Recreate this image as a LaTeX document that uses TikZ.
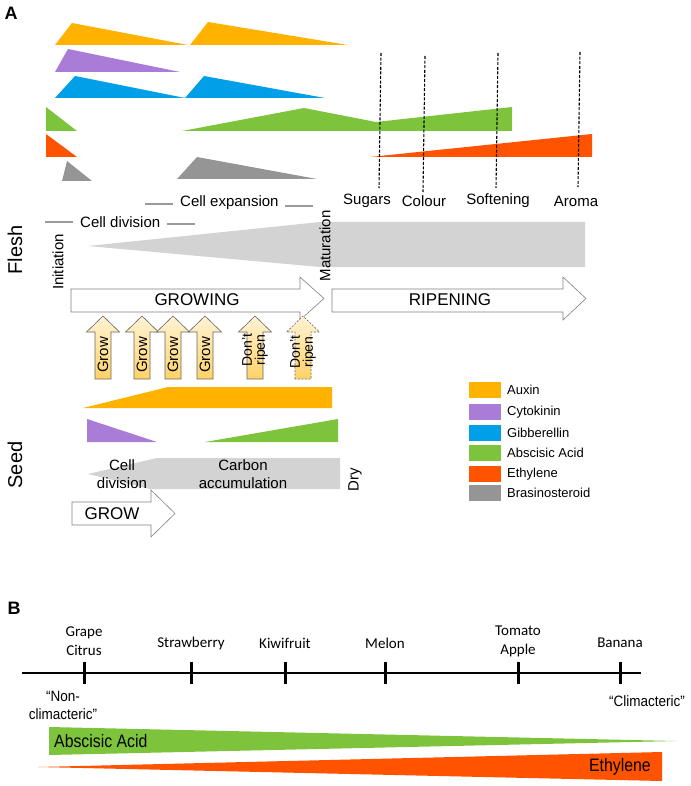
\documentclass[tikz,border=0pt]{standalone}
\usepackage{fontspec}
\setmainfont{Liberation Sans}
\newfontfamily\carl{Carlito}
\definecolor{auxin}{HTML}{FFB300}
\definecolor{cyto}{HTML}{A97CD8}
\definecolor{gibb}{HTML}{009FE8}
\definecolor{aba}{HTML}{7DC43C}
\definecolor{eth}{HTML}{FF5300}
\definecolor{bras}{HTML}{959595}
\definecolor{wedge}{HTML}{D3D3D3}
\definecolor{bargray}{HTML}{9A9A9A}
\definecolor{arrtop}{HTML}{FFF3D6}
\definecolor{arrbot}{HTML}{FFD266}
\begin{document}
\begin{tikzpicture}[x=1pt,y=-1pt,
  lab/.style={inner sep=0pt, font=\fontsize{15}{17}\selectfont},
  big/.style={inner sep=0pt, font=\fontsize{20}{22}\selectfont},
  legtext/.style={inner sep=0pt, anchor=west, font=\fontsize{13}{15}\selectfont},
  swatch/.style={minimum width=32pt, minimum height=16pt, inner sep=0pt},
  flow/.style={draw=black!50, fill=white, line width=0.6pt},
  flowtext/.style={inner sep=0pt, font=\fontsize{17}{19}\selectfont},
  stagebar/.style={draw=bargray, line width=2.8pt},
  marker/.style={draw=black, line width=1.1pt, dash pattern=on 3pt off 1.6pt},
  uparr/.style={draw=black!60, line width=0.6pt, top color=arrtop, bottom color=arrbot},
  arrtext/.style={inner sep=0pt, rotate=90, font=\fontsize{15}{15}\selectfont},
  arrtext2/.style={inner sep=0pt, rotate=90, align=center, font=\fontsize{14}{13}\selectfont},
  fruit/.style={inner sep=0pt, align=center, font=\carl\fontsize{15}{19}\selectfont},
  tick/.style={draw=black, line width=3pt},
]
\useasboundingbox (0,0) rectangle (690,786);

% ---------- Panel A labels
\node[inner sep=0pt, font=\bfseries\fontsize{18}{18}\selectfont] (A) at (11,13) {A};

% ---------- Hormone profiles (flesh)
\fill[auxin] (55,45) -- (72,23) -- (188,45) -- cycle;
\fill[auxin] (190,45) -- (208,22) -- (348,45) -- cycle;
\fill[cyto] (55,72) -- (68,49) -- (180,72) -- cycle;
\fill[gibb] (55,98) -- (75,76) -- (185,98) -- cycle;
\fill[gibb] (185,98) -- (204,76) -- (325,98) -- cycle;
\fill[aba] (46,107) -- (77,131) -- (46,131) -- cycle;
\fill[aba] (182,131) -- (304,108) -- (376,122) -- (512,107) -- (512,131) -- cycle;
\fill[eth] (46,134) -- (77,157) -- (46,157) -- cycle;
\fill[eth] (370,157) -- (592,134) -- (592,157) -- cycle;
\fill[bras] (62,181) -- (67,161) -- (92,181) -- cycle;
\fill[bras] (177,179) -- (197,157) -- (317,179) -- cycle;

% ---------- ripening markers
\node[lab] (sug) at (367,201) {Sugars};
\node[lab] (col) at (424,201) {Colour};
\node[lab] (sof) at (498,201) {Softening};
\node[lab] (aro) at (576,201) {Aroma};
\coordinate (sugT) at (381,53);
\coordinate (colT) at (425,56);
\coordinate (sofT) at (498,53);
\coordinate (aroT) at (580,52);
\draw[marker] (sugT) -- (379,188);
\draw[marker] (colT) -- (423,192);
\draw[marker] (sofT) -- (496,188);
\draw[marker] (aroT) -- (578,187);

% ---------- flesh development
\node[big, rotate=90] (flesh) at (15,250) {Flesh};
\node[lab, rotate=90] (init) at (58,262) {Initiation};
\node[lab, anchor=west] (celldiv) at (80,222) {Cell division};
\draw[stagebar] (45,222) -- (73,222);
\draw[stagebar] (167,224) -- (195,224);
\node[lab, anchor=west] (cellexp) at (180,203) {Cell expansion};
\draw[stagebar] (145,204) -- (173,204);
\draw[stagebar] (285,206) -- (313,206);
\fill[wedge] (88,246) -- (320,222) -- (585,222) -- (585,267) -- (320,267) -- cycle;
\node[lab, rotate=90] (mat) at (325,246) {Maturation};

\path[flow] (71,289) -- (300,289) -- (300,277) -- (324,298.5) -- (300,320) -- (300,312) -- (71,312) -- cycle;
\node[flowtext] (growing) at (197,300) {GROWING};
\path[flow] (332,289) -- (563,289) -- (563,277) -- (586,298.5) -- (563,320) -- (563,312) -- (332,312) -- cycle;
\node[flowtext] (ripening) at (450,300) {RIPENING};

% ---------- up arrows
\foreach \cx/\nm in {103/g1,142/g2,173/g3,205/g4}{
  \path[uparr] (\cx-8,379) -- (\cx-8,332) -- (\cx-16.5,332) -- (\cx,316) -- (\cx+16.5,332) -- (\cx+8,332) -- (\cx+8,379) -- cycle;
  \node[arrtext] (\nm) at (\cx,355) {Grow};
}
\path[uparr] (247,379) -- (247,332) -- (238.5,332) -- (255,316) -- (271.5,332) -- (263,332) -- (263,379) -- cycle;
\node[arrtext2] (dr1) at (255,350) {Don't\\ripen};
\path[uparr, dash pattern=on 2pt off 1.5pt] (295,379) -- (295,332) -- (286.5,332) -- (303,316) -- (319.5,332) -- (311,332) -- (311,379) -- cycle;
\node[arrtext2] (dr2) at (303,352) {Don't\\ripen};

% ---------- seed
\node[big, rotate=90] (seed) at (15,465) {Seed};
\fill[auxin] (83,408) -- (168,387) -- (332,387) -- (332,408) -- cycle;
\fill[cyto] (87,419) -- (157,442) -- (87,442) -- cycle;
\fill[aba] (205,442) -- (338,419) -- (338,442) -- cycle;
\fill[wedge] (88,474) -- (157,458) -- (340,458) -- (340,489) -- (150,489) -- cycle;
\node[lab, align=center, font=\fontsize{15}{18}\selectfont] (sdiv) at (122,474) {Cell\\division};
\node[lab, align=center, font=\fontsize{15}{18}\selectfont] (carb) at (243,474) {Carbon\\accumulation};
\node[lab, rotate=90] (dry) at (355,480) {Dry};
\path[flow] (72,502) -- (151,502) -- (151,490) -- (175,513.5) -- (151,537) -- (151,525) -- (72,525) -- cycle;
\node[flowtext] (grow) at (112,514) {GROW};

% ---------- legend
\node[swatch, fill=auxin] (l1) at (485,390) {};
\node[swatch, fill=cyto]  (l2) at (485,412) {};
\node[swatch, fill=gibb]  (l3) at (485,433) {};
\node[swatch, fill=aba]   (l4) at (485,453) {};
\node[swatch, fill=eth]   (l5) at (485,474) {};
\node[swatch, fill=bras]  (l6) at (485,493) {};
\node[legtext] (t1) at (507,390) {Auxin};
\node[legtext] (t2) at (507,412) {Cytokinin};
\node[legtext] (t3) at (507,433) {Gibberellin};
\node[legtext] (t4) at (507,453) {Abscisic Acid};
\node[legtext] (t5) at (507,474) {Ethylene};
\node[legtext] (t6) at (507,493) {Brasinosteroid};

% ---------- Panel B
\node[inner sep=0pt, font=\bfseries\fontsize{18}{18}\selectfont] (B) at (14,608) {B};
\coordinate (axL) at (22,673);
\coordinate (axR) at (641,673);
\draw[line width=1.6pt] (axL) -- (axR);
\foreach \tx in {84,191,285,385,518,620}{
  \draw[tick] (\tx,662) -- (\tx,684);
}
\node[fruit] (f1) at (84,641) {Grape\\Citrus};
\node[fruit] (f2) at (191,643) {Strawberry};
\node[fruit] (f3) at (285,643) {Kiwifruit};
\node[fruit] (f4) at (385,643) {Melon};
\node[fruit] (f5) at (518,641) {Tomato\\Apple};
\node[fruit] (f6) at (620,643) {Banana};
\node[inner sep=0pt, align=center, font=\fontsize{15}{18}\selectfont] (nc) at (63,705) {\scalebox{0.9}[1]{“Non-}\\\scalebox{0.9}[1]{climacteric”}};
\node[inner sep=0pt, font=\fontsize{15}{17}\selectfont] (cl) at (647,701) {\scalebox{0.9}[1]{“Climacteric”}};
\fill[aba] (49,727) -- (676,741) -- (49,755) -- cycle;
\node[inner sep=0pt, anchor=west, font=\fontsize{18}{20}\selectfont] (abaB) at (54,741) {\scalebox{0.88}[1]{Abscisic Acid}};
\fill[eth] (38,767) -- (662,752) -- (662,781) -- cycle;
\node[inner sep=0pt, anchor=east, font=\fontsize{18}{20}\selectfont] (ethB) at (651,767) {\scalebox{0.88}[1]{Ethylene}};
\end{tikzpicture}
\end{document}
